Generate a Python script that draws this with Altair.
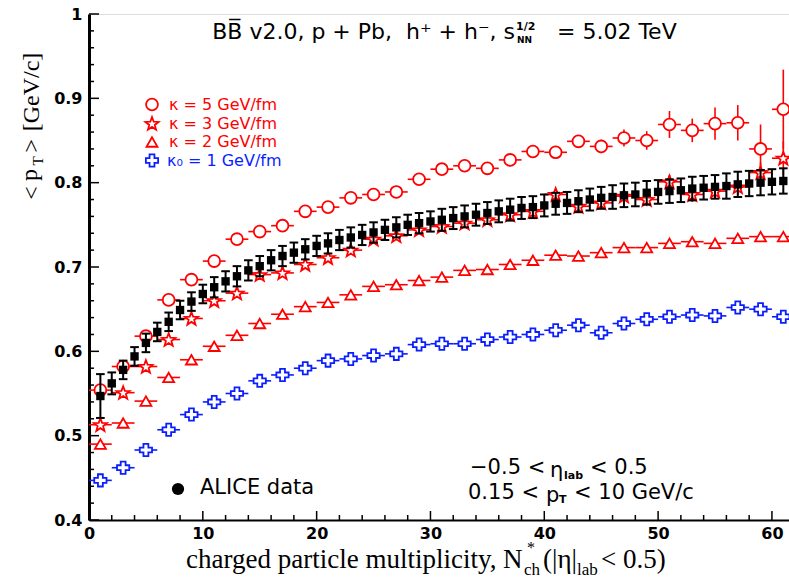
import math
import altair as alt
import pandas as pd

# ---------------- data ----------------
x_odd = [1, 3, 5, 7, 9, 11, 13, 15, 17, 19, 21, 23, 25, 27, 29, 31,
         33, 35, 37, 39, 41, 43, 45, 47, 49, 51, 53, 55, 57, 59, 61]

kappa5_y = [0.554, 0.582, 0.618, 0.661, 0.685, 0.707, 0.733, 0.742, 0.749, 0.766, 0.771,
            0.782, 0.786, 0.789, 0.804, 0.816, 0.820, 0.817, 0.827, 0.837, 0.836, 0.849,
            0.843, 0.853, 0.850, 0.869, 0.862, 0.870, 0.871, 0.840, 0.887]
kappa5_err = [0.004, 0.004, 0.004, 0.004, 0.004, 0.004, 0.004, 0.004, 0.004, 0.005, 0.005,
              0.005, 0.005, 0.005, 0.005, 0.006, 0.006, 0.006, 0.006, 0.007, 0.007, 0.007,
              0.008, 0.010, 0.011, 0.016, 0.014, 0.019, 0.021, 0.029, 0.047]

kappa3_y = [0.513, 0.551, 0.582, 0.614, 0.639, 0.660, 0.669, 0.691, 0.693, 0.703, 0.711,
            0.720, 0.733, 0.737, 0.744, 0.748, 0.752, 0.756, 0.762, 0.766, 0.786, 0.772,
            0.776, 0.784, 0.780, 0.801, 0.786, 0.790, 0.795, 0.812, 0.829]
kappa3_err = [0.004, 0.004, 0.004, 0.004, 0.004, 0.004, 0.004, 0.004, 0.004, 0.005, 0.005,
              0.005, 0.005, 0.005, 0.005, 0.005, 0.005, 0.006, 0.006, 0.006, 0.006, 0.006,
              0.007, 0.007, 0.008, 0.008, 0.009, 0.009, 0.010, 0.012, 0.020]

kappa2_y = [0.490, 0.515, 0.541, 0.569, 0.590, 0.606, 0.619, 0.633, 0.644, 0.653, 0.658,
            0.667, 0.677, 0.679, 0.684, 0.688, 0.696, 0.697, 0.703, 0.708, 0.714, 0.713,
            0.717, 0.723, 0.723, 0.728, 0.730, 0.728, 0.734, 0.736, 0.736]

kappa0_y = [0.447, 0.462, 0.483, 0.507, 0.525, 0.540, 0.550, 0.565, 0.572, 0.580, 0.589,
            0.591, 0.595, 0.597, 0.608, 0.609, 0.609, 0.614, 0.617, 0.620, 0.625, 0.631,
            0.622, 0.633, 0.638, 0.641, 0.643, 0.642, 0.652, 0.650, 0.641]

alice_x = [1, 2, 3, 4, 5, 6, 7, 8, 9, 10, 11, 12, 13, 14, 15, 16, 17, 18, 19, 20,
           21, 22, 23, 24, 25, 26, 27, 28, 29, 30, 31, 32, 33, 34, 35, 36, 37, 38, 39, 40,
           41, 42, 43, 44, 45, 46, 47, 48, 49, 50, 51, 52, 53, 54, 55, 56, 57, 58, 59, 60, 61]
alice_y = [0.547, 0.562, 0.578, 0.594, 0.610, 0.623, 0.635, 0.649, 0.659, 0.668,
           0.676, 0.683, 0.689, 0.696, 0.701, 0.708, 0.713, 0.717, 0.721, 0.725,
           0.728, 0.732, 0.735, 0.738, 0.741, 0.744, 0.747, 0.750, 0.752, 0.754,
           0.756, 0.758, 0.760, 0.762, 0.764, 0.766, 0.768, 0.770, 0.771, 0.773,
           0.775, 0.776, 0.778, 0.780, 0.782, 0.783, 0.785, 0.786, 0.788, 0.789,
           0.790, 0.791, 0.793, 0.794, 0.795, 0.796, 0.798, 0.799, 0.800, 0.801, 0.802]
alice_err = [0.026, 0.013, 0.011, 0.011, 0.011, 0.011, 0.011, 0.011, 0.011, 0.011,
             0.012, 0.012, 0.012, 0.012, 0.012, 0.012, 0.012, 0.012, 0.012, 0.012,
             0.012, 0.012, 0.012, 0.012, 0.012, 0.012, 0.012, 0.012, 0.012, 0.012,
             0.013, 0.013, 0.013, 0.013, 0.013, 0.013, 0.013, 0.013, 0.013, 0.013,
             0.013, 0.013, 0.013, 0.013, 0.013, 0.014, 0.014, 0.014, 0.014, 0.014,
             0.014, 0.014, 0.014, 0.014, 0.014, 0.015, 0.015, 0.015, 0.015, 0.015, 0.015]

x_major = [0, 10, 20, 30, 40, 50, 60]
x_minor = [2, 4, 6, 8, 12, 14, 16, 18, 22, 24, 26, 28, 32, 34, 36, 38,
           42, 44, 46, 48, 52, 54, 56, 58]
y_major = [0.4, 0.5, 0.6, 0.7, 0.8, 0.9, 1.0]
y_minor = [0.42, 0.44, 0.46, 0.48, 0.52, 0.54, 0.56, 0.58, 0.62, 0.64, 0.66, 0.68,
           0.72, 0.74, 0.76, 0.78, 0.82, 0.84, 0.86, 0.88, 0.92, 0.94, 0.96, 0.98]

# ---------------- styling ----------------
W, H = 700, 506
OX, OY = 89, 14
RED = "#ff0000"
BLUE = "#0a1eff"
SANS = "DejaVu Sans"
SERIF = "Liberation Serif"

XS = alt.Scale(domain=[0, 61.5], nice=False, zero=False)
YS = alt.Scale(domain=[0.4, 1.0], nice=False, zero=False)

AXX = alt.Axis(values=x_major, ticks=False, grid=False, title=None, domainColor="black",
               domainWidth=2, labelFont=SANS, labelFontWeight="bold", labelFontSize=16,
               labelColor="black", labelPadding=5, labelFlush=False, labelBaseline="top",
               format="d")
AXY = alt.Axis(values=y_major, ticks=False, grid=False, title=None, domainColor="black",
               domainWidth=3, labelFont=SANS, labelFontWeight="bold", labelFontSize=16,
               labelColor="black", labelPadding=7, labelFlush=False,
               labelExpr="datum.value == 1 ? '1' : format(datum.value, '.1f')")

# five-point star as a custom symbol path
_pts = []
for k in range(10):
    a = math.radians(-90 + 36 * k)
    r = 1.0 if k % 2 == 0 else 0.42
    _pts.append(f"{r * math.cos(a):.3f},{r * math.sin(a) + 0.08:.3f}")
STAR = "M" + " L".join(_pts) + " Z"


def series_df(xs, ys, errs=None):
    d = pd.DataFrame({"x": xs, "y": ys})
    d["xlo"] = d["x"] - 1
    d["xhi"] = d["x"] + 1
    if errs is not None:
        d["ylo"] = d["y"] - pd.Series(errs)
        d["yhi"] = d["y"] + pd.Series(errs)
    return d


def X(field):
    return alt.X(field, type="quantitative", scale=XS, axis=AXX)


def Y(field):
    return alt.Y(field, type="quantitative", scale=YS, axis=AXY)


def open_series(df, color, shape, size, vbars=False):
    layers = [
        alt.Chart(df).mark_rule(color=color, strokeWidth=1.6).encode(
            x=X("xlo"), x2="xhi", y=Y("y"))
    ]
    if vbars:
        layers.append(alt.Chart(df).mark_rule(color=color, strokeWidth=1.6).encode(
            x=X("x"), y=Y("ylo"), y2="yhi"))
    layers.append(alt.Chart(df).mark_point(
        shape=shape, filled=True, fill="white", fillOpacity=1, stroke=color,
        strokeWidth=1.8, size=size, opacity=1).encode(x=X("x"), y=Y("y")))
    return layers


one = pd.DataFrame({"a": [0]})


def txt(s, px, py, size, color="black", font=SANS, weight="normal",
        align="left", baseline="alphabetic", angle=0):
    kw = dict(text=s, fontSize=size, font=font, fontWeight=weight, color=color,
              align=align, baseline=baseline)
    if angle:
        kw["angle"] = angle
    return alt.Chart(one).mark_text(**kw).encode(
        x=alt.value(px - OX), y=alt.value(py - OY))


def sym(px, py, shape, color, size, filled=False):
    if filled:
        m = alt.Chart(one).mark_point(shape=shape, filled=True, color=color, size=size, opacity=1)
    else:
        m = alt.Chart(one).mark_point(shape=shape, filled=True, fill="white", stroke=color,
                                      strokeWidth=1.8, size=size, opacity=1)
    return m.encode(x=alt.value(px - OX), y=alt.value(py - OY))


# ---------------- ticks (drawn inward) ----------------
xt_major = alt.Chart(pd.DataFrame({"t": x_major})).mark_rule(color="black", strokeWidth=1.5).encode(
    x=X("t"), y=alt.value(H), y2=alt.value(H - 9))
xt_minor = alt.Chart(pd.DataFrame({"t": x_minor})).mark_rule(color="black", strokeWidth=1.5).encode(
    x=X("t"), y=alt.value(H), y2=alt.value(H - 5))
yt_major = alt.Chart(pd.DataFrame({"t": y_major})).mark_rule(color="black", strokeWidth=1.5).encode(
    y=Y("t"), x=alt.value(0), x2=alt.value(10))
yt_minor = alt.Chart(pd.DataFrame({"t": y_minor})).mark_rule(color="black", strokeWidth=1.5).encode(
    y=Y("t"), x=alt.value(0), x2=alt.value(5))

# ---------------- series ----------------
k5 = series_df(x_odd, kappa5_y, kappa5_err)
k3 = series_df(x_odd, kappa3_y, kappa3_err)
k2 = series_df(x_odd, kappa2_y)
k0 = series_df(x_odd, kappa0_y)

al = pd.DataFrame({"x": alice_x, "y": alice_y, "e": alice_err})
al["ylo"] = al["y"] - al["e"]
al["yhi"] = al["y"] + al["e"]
al["clo"] = al["x"] - 0.38
al["chi"] = al["x"] + 0.38

layers = []
layers += open_series(k0, BLUE, "cross", 150)
layers += open_series(k2, RED, "triangle-up", 120)
layers += open_series(k3, RED, STAR, 190, vbars=True)
layers += open_series(k5, RED, "circle", 140, vbars=True)

layers += [
    alt.Chart(al).mark_rule(color="black", strokeWidth=2).encode(x=X("x"), y=Y("ylo"), y2="yhi"),
    alt.Chart(al).mark_rule(color="black", strokeWidth=2).encode(x=X("clo"), x2="chi", y=Y("ylo")),
    alt.Chart(al).mark_rule(color="black", strokeWidth=2).encode(x=X("clo"), x2="chi", y=Y("yhi")),
    alt.Chart(al).mark_point(shape="square", filled=True, color="black", size=70, opacity=1).encode(
        x=X("x"), y=Y("y")),
]

layers += [xt_major, xt_minor, yt_major, yt_minor]

# ---------------- annotations ----------------
T = 22
layers += [
    txt("BB\u0305 v2.0, p + Pb,", 392, 39, T, align="right"),
    txt("h\u207a + h\u207b, s", 515, 39, T, align="right"),
    txt("1/2", 516, 30, 11, weight="bold"),
    txt("NN", 517, 43, 9, weight="bold"),
    txt("= 5.02 TeV", 557, 39, T, align="left"),
]

L = 16
layers += [
    sym(152, 104.5, "circle", RED, 140),
    sym(152, 123.5, STAR, RED, 190),
    sym(152, 142, "triangle-up", RED, 120),
    sym(152, 160.5, "cross", BLUE, 150),
    txt("\u03ba = 5 GeV/fm", 169, 104.5, L, color=RED, baseline="middle"),
    txt("\u03ba = 3 GeV/fm", 169, 123.5, L, color=RED, baseline="middle"),
    txt("\u03ba = 2 GeV/fm", 169, 142, L, color=RED, baseline="middle"),
    txt("\u03ba\u2080 = 1 GeV/fm", 167, 161, L, color=BLUE, baseline="middle"),
]

B = 21
layers += [
    sym(178, 489, "circle", "black", 150, filled=True),
    txt("ALICE data", 200, 488, 21, baseline="middle"),
    txt("\u22120.5 <", 470, 468, B, baseline="middle"),
    txt("\u03b7", 550, 471, B, baseline="middle"),
    txt("lab", 564, 476, 11, weight="bold", baseline="middle"),
    txt("< 0.5", 590, 468, B, baseline="middle"),
    txt("0.15 <", 468, 493, B, baseline="middle"),
    txt("p", 546, 496, B, baseline="middle"),
    txt("T", 559, 500, 11, weight="bold", baseline="middle"),
    txt("< 10 GeV/c", 574, 493, B, baseline="middle"),
]

# x-axis title (natural spacing, centred on the reference extent)
XT = 27
layers += [
    txt("charged particle multiplicity,", 186, 568, XT, font=SERIF),
    txt("N", 503, 568, XT, font=SERIF),
    txt("*", 531, 553, 16, font=SERIF, align="center"),
    txt("ch", 524, 575, 17, font=SERIF),
    txt("(|\u03b7|", 543, 568, XT, font=SERIF),
    txt("lab", 577, 575, 17, font=SERIF),
    txt("< 0.5)", 601, 568, XT, font=SERIF),
]

# y-axis title (rotated)
layers += [
    txt("<", 32, 193, 24, font=SERIF, align="center", baseline="middle", angle=270),
    txt("p", 30, 175, 24, font=SERIF, align="center", baseline="middle", angle=270),
    txt("T", 38, 161, 15, font=SERIF, align="center", baseline="middle", angle=270),
    txt(">", 32, 146, 24, font=SERIF, align="center", baseline="middle", angle=270),
    txt("[GeV/c]", 32, 92, 24, font=SERIF, align="center", baseline="middle", angle=270),
]

chart = alt.layer(*layers).properties(
    width=W, height=H, autosize="none",
    padding={"left": OX, "top": OY, "right": 0, "bottom": 578 - OY - H},
).configure_view(stroke="black", strokeWidth=2).configure(background="white")

chart.save("out.html", embed_options={"renderer": "svg", "actions": False})
